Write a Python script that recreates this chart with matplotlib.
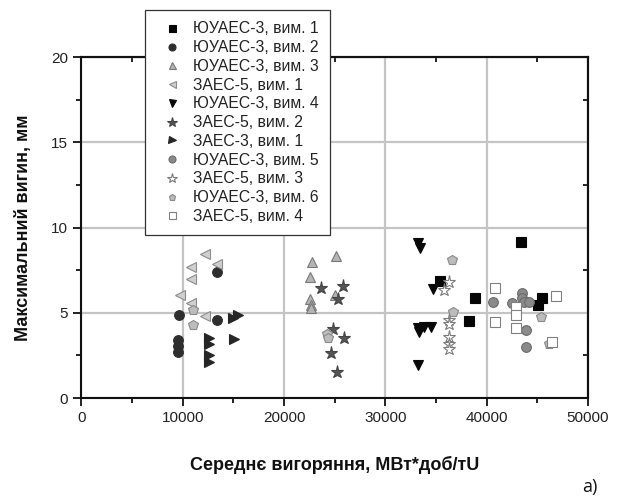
import matplotlib
matplotlib.use("Agg")
import matplotlib.pyplot as plt
from matplotlib.ticker import MultipleLocator

plt.rcParams["font.family"] = ["Liberation Sans", "DejaVu Sans"]

# average burnup (MW*day/tU) and max bow (mm) per campaign
yu1_x = [35400, 38900, 38300, 43400, 45500, 45100]
yu1_y = [6.85, 5.85, 4.50, 9.15, 5.85, 5.45]

yu2_x = [13400, 9600, 13400, 9500, 9500, 9500]
yu2_y = [7.41, 4.87, 4.57, 3.40, 3.05, 2.72]

yu3_x = [22800, 25100, 22600, 22600, 22700, 22700, 25000]
yu3_y = [8.00, 8.33, 7.08, 5.79, 5.45, 5.26, 6.04]

za5_1_x = [12200, 13400, 10800, 10800, 9700, 10800, 12200]
za5_1_y = [8.45, 7.86, 7.70, 6.96, 6.04, 5.59, 4.81]

yu4_x = [33200, 33400, 34700, 33200, 33350, 33850, 34500, 33200]
yu4_y = [9.10, 8.80, 6.38, 4.09, 3.89, 4.18, 4.18, 1.94]

za5_2_x = [23700, 25800, 25300, 24800, 25900, 24650, 25200]
za5_2_y = [6.43, 6.57, 5.79, 4.03, 3.50, 2.66, 1.54]

za3_1_x = [12600, 12600, 12600, 12600, 15100, 15000, 15500]
za3_1_y = [3.50, 3.20, 2.52, 2.13, 3.44, 4.70, 4.85]

yu5_x = [40650, 42550, 43550, 43500, 43700, 44200, 43850, 43900]
yu5_y = [5.65, 5.59, 6.18, 5.90, 5.65, 5.65, 3.99, 2.97]

za5_3_x = [36300, 35800, 36250, 36250, 36300, 36300, 36300]
za5_3_y = [6.82, 6.33, 4.61, 4.34, 3.60, 3.20, 2.86]

yu6_x = [11000, 11000, 24200, 24300, 36600, 36700, 45350, 46150]
yu6_y = [5.16, 4.28, 3.75, 3.55, 8.09, 5.06, 4.73, 3.20]

za5_4_x = [40800, 40800, 42950, 42950, 42950, 46900, 46500]
za5_4_y = [6.48, 4.48, 5.32, 4.87, 4.09, 5.98, 3.30]

series = [
    (yu1_x, yu1_y, "ЮУАЕС-3, вим. 1", "s", "#050505", "#050505"),
    (yu2_x, yu2_y, "ЮУАЕС-3, вим. 2", "o", "#2e2e2e", "#2e2e2e"),
    (yu3_x, yu3_y, "ЮУАЕС-3, вим. 3", "^", "#b4b4b4", "#7a7a7a"),
    (za5_1_x, za5_1_y, "ЗАЕС-5, вим. 1", "<", "#cfcfcf", "#8c8c8c"),
    (yu4_x, yu4_y, "ЮУАЕС-3, вим. 4", "v", "#080808", "#080808"),
    (za5_2_x, za5_2_y, "ЗАЕС-5, вим. 2", "*", "#555555", "#444444"),
    (za3_1_x, za3_1_y, "ЗАЕС-3, вим. 1", ">", "#262626", "#262626"),
    (yu5_x, yu5_y, "ЮУАЕС-3, вим. 5", "o", "#8a8a8a", "#6a6a6a"),
    (za5_3_x, za5_3_y, "ЗАЕС-5, вим. 3", "*", "#ffffff", "#7a7a7a"),
    (yu6_x, yu6_y, "ЮУАЕС-3, вим. 6", "p", "#bcbcbc", "#8a8a8a"),
    (za5_4_x, za5_4_y, "ЗАЕС-5, вим. 4", "s", "#ffffff", "#808080"),
]

fig = plt.figure(figsize=(6.22, 4.97), dpi=100)
ax = fig.add_axes([0.131, 0.199, 0.814, 0.686])

for x, y, label, m, fc, ec in series:
    ms = 9.5 if m == "*" else 7
    ax.plot(x, y, linestyle="none", marker=m, markersize=ms,
            markerfacecolor=fc, markeredgecolor=ec, markeredgewidth=0.8,
            label=label, zorder=3)

ax.set_xlim(0, 50000)
ax.set_ylim(0, 20)
ax.xaxis.set_major_locator(MultipleLocator(10000))
ax.xaxis.set_minor_locator(MultipleLocator(5000))
ax.yaxis.set_major_locator(MultipleLocator(5))
ax.yaxis.set_minor_locator(MultipleLocator(2.5))
ax.grid(which="major", color="#c4c4c4", lw=1.6, zorder=0)
ax.set_axisbelow(True)
for s in ax.spines.values():
    s.set_linewidth(1.5)
    s.set_color("#111111")

ax.tick_params(which="both", direction="out", width=1.3, colors="#111111",
               labelsize=11, labelcolor="#222222")
ax.tick_params(which="major", length=6)
ax.tick_params(which="minor", length=3.5)

# mirrored ticks on the top and right frame, pointing inward
sx = ax.secondary_xaxis("top")
sy = ax.secondary_yaxis("right")
sx.xaxis.set_major_locator(MultipleLocator(10000))
sx.xaxis.set_minor_locator(MultipleLocator(5000))
sy.yaxis.set_major_locator(MultipleLocator(5))
sy.yaxis.set_minor_locator(MultipleLocator(2.5))
for sec in (sx, sy):
    sec.tick_params(which="both", direction="in", width=1.3,
                    colors="#111111", labelleft=False, labelright=False,
                    labeltop=False, labelbottom=False)
    sec.tick_params(which="major", length=6)
    sec.tick_params(which="minor", length=3.5)
    for s in sec.spines.values():
        s.set_linewidth(1.5)
        s.set_color("#111111")

ax.set_xlabel("Середнє вигоряння, МВт*доб/тU", fontsize=13,
              fontweight="bold", labelpad=22, color="#111111")
ax.set_ylabel("Максимальний вигин, мм", fontsize=13, fontweight="bold",
              labelpad=14, color="#111111")

leg = ax.legend(loc="upper left", bbox_to_anchor=(145 / 622, 1 - 10 / 497),
                bbox_transform=fig.transFigure, borderaxespad=0,
                fontsize=11.3, labelspacing=0.24, handlelength=1.94,
                handletextpad=0.37, borderpad=0.72, markerscale=0.72,
                fancybox=False, framealpha=1, edgecolor="#333333",
                numpoints=1)
leg.get_frame().set_linewidth(0.9)
leg.set_zorder(10)
for t in leg.get_texts():
    t.set_color("#222222")

fig.text(590 / 622, 1 - 487 / 497, "а)", fontsize=13, family="Open Sans",
         ha="center", va="center", color="#111111")

fig.savefig("out.png", dpi=100)
